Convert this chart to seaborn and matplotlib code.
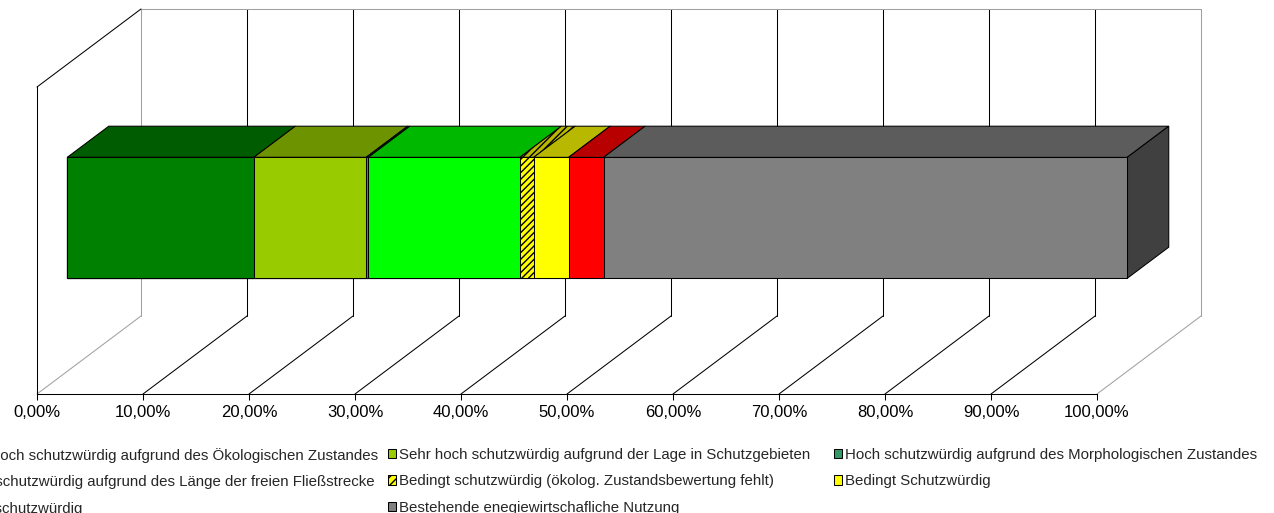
import numpy as np
import matplotlib
matplotlib.use("Agg")
import matplotlib.pyplot as plt
import seaborn as sns
from matplotlib.patches import Polygon, Patch
from matplotlib.transforms import offset_copy
from matplotlib.colors import to_rgb

# Daten
kategorien = [
    "Sehr hoch schutzwürdig aufgrund des Ökologischen Zustandes",
    "Sehr hoch schutzwürdig aufgrund der Lage in Schutzgebieten",
    "Hoch schutzwürdig aufgrund des Morphologischen Zustandes",
    "Hoch schutzwürdig aufgrund des Länge der freien Fließstrecke",
    "Bedingt schutzwürdig (ökolog. Zustandsbewertung fehlt)",
    "Bedingt Schutzwürdig",
    "Nicht schutzwürdig",
    "Bestehende enegiewirtschafliche Nutzung",
]
anteile = [17.6, 10.6, 0.2, 14.3, 1.3, 3.3, 3.3, 49.4]
farben = ["#008000", "#99cc00", "#339966", "#00ff00", "#ffff00", "#ffff00", "#ff0000", "#808080"]
muster = [None, None, None, None, "/////", None, None, None]
tick_werte = [0, 10, 20, 30, 40, 50, 60, 70, 80, 90, 100]
tick_texte = ["0,00%", "10,00%", "20,00%", "30,00%", "40,00%", "50,00%",
              "60,00%", "70,00%", "80,00%", "90,00%", "100,00%"]

sns.set_theme(style="white")
plt.rcParams["font.family"] = ["Liberation Sans", "DejaVu Sans"]
plt.rcParams["hatch.linewidth"] = 1.0

W, H = 1274, 513
fig = plt.figure(figsize=(W / 100, H / 100), dpi=100)

# vordere Ebene in Pixeln
px0, px1, py_top, py_bot = 37, 1097, 87, 394
ax = fig.add_axes([px0 / W, (H - py_bot) / H, (px1 - px0) / W, (py_bot - py_top) / H])

tiefe_px = (104, 78)
DX = tiefe_px[0] / (px1 - px0) * 100
DY = tiefe_px[1] / (py_bot - py_top)
d_vorne, d_hinten = 0.29, 0.69
bar_lo, bar_hi = 0.303, 0.697
grau = "#a0a0a0"
lw = 0.75

# Wände und Boden
for t in tick_werte:
    farbe = grau if t in (0, 100) else "black"
    ax.plot([t + DX, t + DX], [DY, 1 + DY], color=farbe, lw=lw, clip_on=False, zorder=1)
    ax.plot([t, t + DX], [0, DY], color=farbe, lw=lw, clip_on=False, zorder=1)
ax.plot([DX, 100 + DX], [1 + DY, 1 + DY], color=grau, lw=lw, clip_on=False, zorder=1)
ax.plot([0, DX], [1, 1 + DY], color="black", lw=lw, clip_on=False, zorder=1)

# Vorderseite des Balkens (gestapelt durch Überlagerung)
kum = np.cumsum(anteile)
y_mitte = (bar_lo + bar_hi) / 2
for i in reversed(range(len(anteile))):
    sns.barplot(x=[kum[i]], y=[y_mitte], orient="h", native_scale=True,
                width=bar_hi - bar_lo, color=farben[i], saturation=1,
                edgecolor="black", linewidth=lw, hatch=muster[i],
                errorbar=None, ax=ax)
vorne_tr = offset_copy(ax.transData, fig=fig, x=d_vorne * tiefe_px[0],
                       y=d_vorne * tiefe_px[1], units="dots")
for p in ax.patches:
    p.set_transform(vorne_tr)
    p.set_clip_on(False)
    p.set_zorder(5)


def dunkler(c, f=0.72):
    return tuple(v * f for v in to_rgb(c))


# Oberseite
start = np.concatenate([[0], kum[:-1]])
for a, b, c, m in zip(start, kum, farben, muster):
    pts = [(a + d_vorne * DX, bar_hi + d_vorne * DY), (b + d_vorne * DX, bar_hi + d_vorne * DY),
           (b + d_hinten * DX, bar_hi + d_hinten * DY), (a + d_hinten * DX, bar_hi + d_hinten * DY)]
    ax.add_patch(Polygon(pts, closed=True, facecolor=dunkler(c), edgecolor="black",
                         lw=lw, hatch=m, clip_on=False, zorder=4))
# rechte Seite
e = kum[-1]
pts = [(e + d_vorne * DX, bar_lo + d_vorne * DY), (e + d_hinten * DX, bar_lo + d_hinten * DY),
       (e + d_hinten * DX, bar_hi + d_hinten * DY), (e + d_vorne * DX, bar_hi + d_vorne * DY)]
ax.add_patch(Polygon(pts, closed=True, facecolor="#404040", edgecolor="black",
                     lw=lw, clip_on=False, zorder=4))

ax.set_xlim(0, 100)
ax.set_ylim(0, 1)
ax.set(xlabel="", ylabel="")
ax.set_yticks([])
ax.set_xticks(tick_werte, tick_texte)
ax.tick_params(axis="x", bottom=True, direction="out", length=4, width=lw,
               color="black", labelsize=12, pad=4, labelcolor="black")
ax.patch.set_visible(False)
for s in ["top", "right"]:
    ax.spines[s].set_visible(False)
for s in ["left", "bottom"]:
    ax.spines[s].set_color("black")
    ax.spines[s].set_linewidth(lw)

# Legende, zeilenweise in drei Spalten (links abgeschnitten wie im Original)
handles = [Patch(facecolor=c, edgecolor="black", hatch=("////" if m else None), lw=lw)
           for c, m in zip(farben, muster)]
spalten_x = [-55, 388, 834]
for k, sx in enumerate(spalten_x):
    idx = list(range(k, len(kategorien), 3))
    fig.legend([handles[j] for j in idx], [kategorien[j] for j in idx],
               loc="upper left", bbox_to_anchor=(sx / W, 1 - 448 / H),
               frameon=False, borderaxespad=0, borderpad=0, fontsize=10.8,
               handlelength=0.55, handleheight=0.55, handletextpad=0.2,
               labelspacing=0.82)

fig.savefig("out.png", dpi=100)
